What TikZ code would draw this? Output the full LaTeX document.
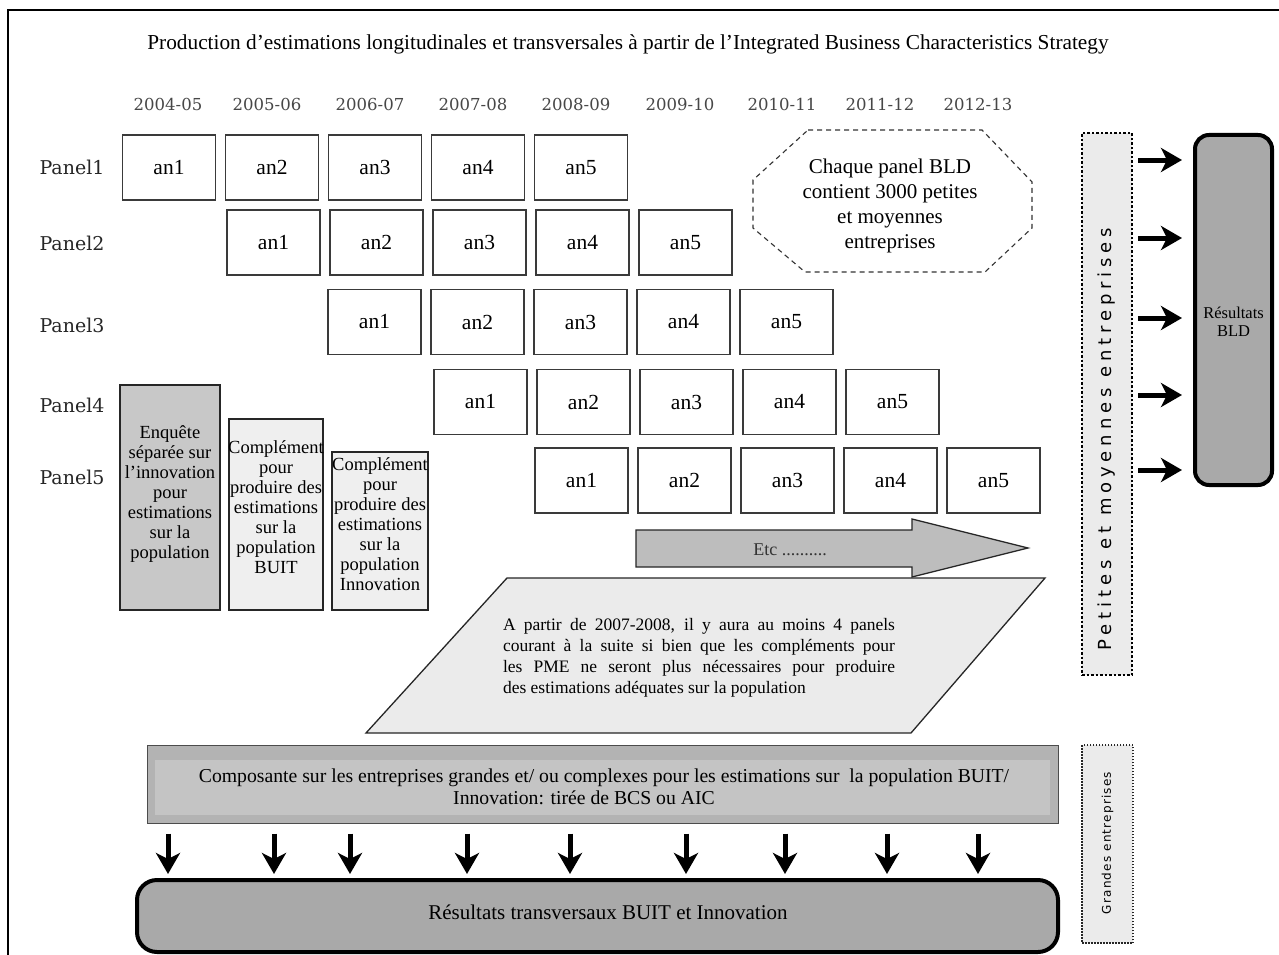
\documentclass[tikz,border=0pt]{standalone}
\usepackage{fontspec}
\setmainfont{Liberation Serif}
\newfontfamily\yrfont{DejaVu Serif}
\newfontfamily\pmefont[LetterSpace=27]{DejaVu Sans}
\newfontfamily\gefont[LetterSpace=10]{DejaVu Sans}
\usetikzlibrary{arrows.meta}
\definecolor{cellb}{HTML}{3A3A3A}
\definecolor{resgray}{HTML}{A9A9A9}
\definecolor{pmefill}{HTML}{EBEBEB}
\definecolor{parafill}{HTML}{EBEBEB}
\definecolor{etcgray}{HTML}{BDBDBD}
\definecolor{barout}{HTML}{B3B3B3}
\definecolor{barin}{HTML}{C4C4C4}
\definecolor{enqfill}{HTML}{C8C8C8}
\definecolor{compfill}{HTML}{EFEFEF}
\begin{document}
\begin{tikzpicture}[x=1pt,y=-1pt,
  cell/.style={draw=cellb,line width=1.3pt,minimum width=93pt,minimum height=65pt,inner sep=0pt,font=\fontsize{21.5}{24}\selectfont},
  yr/.style={font=\yrfont\fontsize{16.5}{18}\selectfont,text=black!72},
  pan/.style={font=\yrfont\fontsize{19}{22}\selectfont,text=black!85},
  sbox/.style={draw=black!85,line width=1.6pt,inner sep=0pt},
  stxt/.style={align=center,font=\fontsize{18.5}{20}\selectfont,inner sep=0pt},
  fat/.style={line width=5pt,-{Stealth[length=21pt,width=24pt,inset=6pt]}},
]
\useasboundingbox (0,0) rectangle (1279,955);
\fill[white] (0,0) rectangle (1279,955);
\draw[line width=2.2pt] (8,960) -- (8,10) -- (1285,10);

\node[font=\fontsize{21.3}{24}\selectfont] (title) at (628,44) {Production d’estimations longitudinales et transversales à partir de l’Integrated Business Characteristics Strategy};

\foreach \t/\xx in {2004-05/168,2005-06/267,2006-07/370,2007-08/473,2008-09/576,2009-10/680,2010-11/782,2011-12/880,2012-13/978}
  \node[yr] (yr\xx) at (\xx,104) {\t};

\foreach \r/\yy in {1/167,2/243,3/325,4/405,5/477}
  \node[pan] (pan\r) at (72,\yy) {Panel\r};

\foreach \r/\yy/\xs in {1/167.5/169,2/242.5/273.5,3/322/374.5,4/402/480.5,5/480.5/581.5}
  \foreach \k in {1,...,5}
    \node[cell] (p\r a\k) at ({\xs+(\k-1)*103},\yy) {an\k};

% octagon
\draw[line width=1.1pt,dash pattern=on 5pt off 4pt,black!80]
  (808,130) -- (982,130) -- (1032,182) -- (1032,228) -- (985,272) -- (805,272) -- (753,228) -- (753,180) -- cycle;
\node[align=center,font=\fontsize{21}{25}\selectfont] (oct) at (890,206) {Chaque panel BLD\\contient 3000 petites\\et moyennes\\entreprises};

% PME box
\node[draw=black,fill=pmefill,line width=2.6pt,dash pattern=on 2.5pt off 2pt,minimum width=50pt,minimum height=542pt,inner sep=0pt] (pme) at (1107,404) {};
\node[rotate=90,font=\pmefont\fontsize{18}{20}\selectfont] (pmet) at (1107,439) {Petites et moyennes entreprises};

% BLD results
\node[draw=black,line width=4pt,rounded corners=14pt,fill=resgray,minimum width=77pt,minimum height=350pt,inner sep=0pt] (bld) at (1233.5,310) {};
\node[align=center,font=\fontsize{16.5}{18}\selectfont] (bldt) at (1233.5,322) {Résultats\\BLD};

\foreach \yy [count=\i] in {160,238,318,395,470} {
  \coordinate (ra\i) at (1138,\yy);
  \draw[fat,shorten >=11pt] (ra\i) -- (bld.west |- ra\i);
}

% Grandes entreprises
\node[draw=black!85,fill=pmefill,line width=2.4pt,dash pattern=on 1.5pt off 1.5pt,minimum width=51pt,minimum height=198pt,inner sep=0pt] (ge) at (1107.5,844) {};
\node[rotate=90,font=\gefont\fontsize{12}{14}\selectfont] (get) at (1107.5,843) {Grandes entreprises};

% left boxes
\node[sbox,fill=enqfill,minimum width=100pt,minimum height=225pt] (b1) at (170,497.5) {};
\node[stxt] (b1t) at (170,494) {Enquête\\séparée sur\\l’innovation\\pour\\estimations\\sur la\\population};
\node[sbox,fill=compfill,minimum width=94pt,minimum height=191pt] (b2) at (276,514.5) {};
\node[stxt] (b2t) at (276,507) {Complément\\pour\\produire des\\estimations\\sur la\\population\\BUIT};
\node[sbox,fill=compfill,minimum width=96pt,minimum height=158pt] (b3) at (380,531) {};
\node[stxt] (b3t) at (380,524.5) {Complément\\pour\\produire des\\estimations\\sur la\\population\\Innovation};

% Etc arrow
\draw[fill=etcgray,line width=1.3pt,draw=black!85]
  (636,530) -- (912,530) -- (912,519) -- (1028,548) -- (912,577) -- (912,567) -- (636,567) -- cycle;
\node[font=\fontsize{18}{20}\selectfont,text=black!80] (etc) at (790,550) {Etc ..........};

% parallelogram
\draw[fill=parafill,line width=1.3pt,draw=black!85]
  (507,578) -- (1045,578) -- (911,733) -- (366,733) -- cycle;
\node[align=left,inner sep=0pt,font=\fontsize{17.5}{21}\selectfont] (para) at (699,658) {%
\makebox[392pt][s]{A partir de 2007-2008, il y aura au moins 4 panels}\\
\makebox[392pt][s]{courant à la suite si bien que les compléments pour}\\
\makebox[392pt][s]{les PME ne seront plus nécessaires pour produire}\\
\makebox[392pt][l]{des estimations adéquates sur la population}};

% bar
\node[draw=black!70,line width=1pt,fill=barout,minimum width=911pt,minimum height=78pt,inner sep=0pt] (bar) at (602.5,784) {};
\fill[barin] (155,760) rectangle (1050,815);
\node[align=center,font=\fontsize{19.7}{22}\selectfont] (bart) at (604,787) {Composante sur les entreprises grandes et/ ou complexes pour les estimations sur\ \ la population BUIT/\\Innovation: tirée de BCS ou AIC\hspace*{40pt}};

% results
\node[draw=black,line width=4pt,rounded corners=20pt,fill=resgray,minimum width=921pt,minimum height=72pt,inner sep=0pt] (res) at (597.5,916) {};
\node[font=\fontsize{21}{24}\selectfont] (rest) at (608,912) {Résultats transversaux BUIT et Innovation};

\foreach \xx in {168,274,350,467,570,686,785,887,978}
  \draw[fat,shorten <=10pt,shorten >=4pt] (bar.south -| \xx,0) -- (res.north -| \xx,0);
\end{tikzpicture}
\end{document}
